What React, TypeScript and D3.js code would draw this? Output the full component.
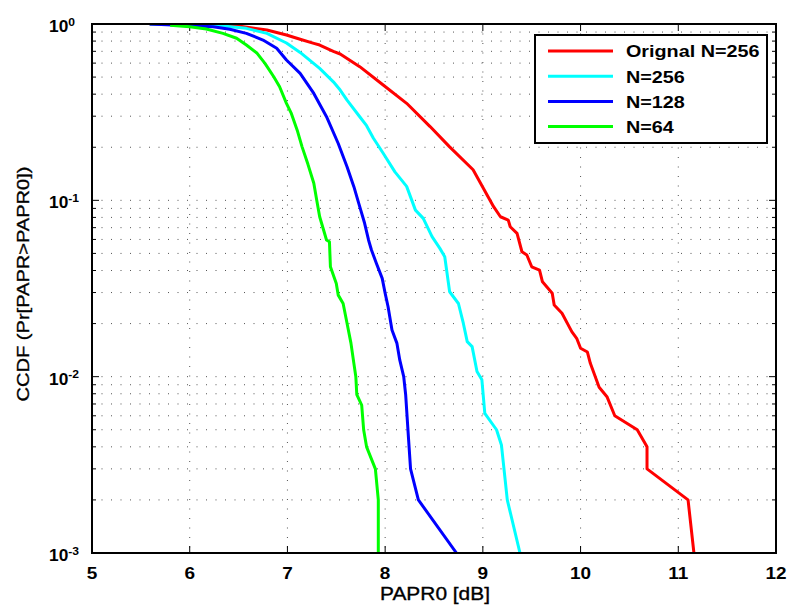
import React from "react";
import * as d3 from "d3";

const seriesNames = ["Orignal N=256", "N=256", "N=128", "N=64"];
const seriesColors = ["#ff0000", "#00ffff", "#0000ff", "#00ff00"];

const origX = [5.59, 6.0, 6.48, 6.79, 6.99, 7.13, 7.27, 7.33, 7.47, 7.54, 7.74, 7.98, 8.22, 8.46, 8.66, 8.9, 9.11, 9.18, 9.26, 9.28, 9.35, 9.4, 9.45, 9.5, 9.58, 9.61, 9.71, 9.73, 9.81, 9.91, 9.96, 10.0, 10.07, 10.1, 10.19, 10.27, 10.35, 10.58, 10.68, 10.68, 11.1, 11.16];
const origY = [1.0, 0.995, 0.978, 0.925, 0.866, 0.819, 0.777, 0.76, 0.7, 0.676, 0.573, 0.451, 0.355, 0.262, 0.201, 0.149, 0.092, 0.0807, 0.0773, 0.0708, 0.065, 0.0511, 0.049, 0.042, 0.0402, 0.0345, 0.0297, 0.0255, 0.0229, 0.018, 0.0165, 0.0145, 0.0138, 0.0119, 0.0087, 0.0077, 0.006, 0.005, 0.004, 0.003, 0.002, 0.001];

const n256X = [5.59, 6.0, 6.31, 6.58, 6.79, 6.99, 7.13, 7.33, 7.47, 7.54, 7.61, 7.74, 7.81, 7.88, 7.98, 8.1, 8.22, 8.31, 8.39, 8.48, 8.56, 8.61, 8.66, 8.75, 8.8, 8.84, 8.89, 8.94, 8.99, 9.02, 9.14, 9.19, 9.25, 9.38];
const n256Y = [1.0, 0.995, 0.978, 0.945, 0.885, 0.78, 0.69, 0.56, 0.47, 0.422, 0.37, 0.298, 0.265, 0.225, 0.185, 0.145, 0.12, 0.088, 0.079, 0.0622, 0.0534, 0.0479, 0.0303, 0.026, 0.0201, 0.0158, 0.0148, 0.0107, 0.0096, 0.0062, 0.005, 0.0041, 0.002, 0.001];

const n128X = [5.59, 6.0, 6.24, 6.41, 6.58, 6.75, 6.89, 6.99, 7.13, 7.27, 7.4, 7.52, 7.61, 7.68, 7.73, 7.79, 7.83, 7.86, 7.91, 7.97, 8.0, 8.03, 8.07, 8.12, 8.15, 8.19, 8.21, 8.24, 8.26, 8.34, 8.73];
const n128Y = [1.0, 0.978, 0.965, 0.933, 0.885, 0.811, 0.728, 0.625, 0.525, 0.404, 0.298, 0.21, 0.155, 0.1195, 0.0962, 0.0741, 0.0596, 0.0523, 0.044, 0.0361, 0.0297, 0.0249, 0.0184, 0.0155, 0.0124, 0.01, 0.0079, 0.0044, 0.003, 0.002, 0.001];

const n64X = [5.8, 6.0, 6.17, 6.34, 6.48, 6.58, 6.69, 6.77, 6.86, 6.92, 6.99, 7.04, 7.1, 7.15, 7.21, 7.27, 7.3, 7.33, 7.37, 7.4, 7.43, 7.44, 7.5, 7.52, 7.57, 7.61, 7.65, 7.68, 7.7, 7.71, 7.76, 7.78, 7.81, 7.9, 7.93, 7.93];
const n64Y = [0.985, 0.965, 0.937, 0.885, 0.83, 0.76, 0.682, 0.598, 0.502, 0.441, 0.355, 0.311, 0.25, 0.201, 0.16, 0.125, 0.1, 0.0807, 0.0679, 0.0596, 0.0582, 0.042, 0.0338, 0.029, 0.026, 0.0201, 0.0155, 0.0119, 0.01, 0.0079, 0.0069, 0.005, 0.004, 0.003, 0.002, 0.001];

const xTicks = [5, 6, 7, 8, 9, 10, 11, 12];
const yDecades = [0, -1, -2, -3];

const W = 790, H = 608;
const L = 92, R = 776, T = 24, B = 553;
const FONT = "'Liberation Sans', Arial, Helvetica, sans-serif";

export default function App() {
  const x = d3.scaleLinear().domain([5, 12]).range([L, R]);
  const y = d3.scaleLog().domain([1e-3, 1]).range([B, T]);
  const line = d3.line<[number, number]>().x(d => x(d[0])).y(d => y(d[1]));
  const series = [
    d3.zip(origX, origY) as [number, number][],
    d3.zip(n256X, n256Y) as [number, number][],
    d3.zip(n128X, n128Y) as [number, number][],
    d3.zip(n64X, n64Y) as [number, number][],
  ];
  const minor: number[] = [];
  for (let e = -3; e < 0; e++) for (let m = 2; m <= 9; m++) minor.push(m * Math.pow(10, e));
  const major = yDecades.map(e => Math.pow(10, e));
  const dash = "1,8.5";
  const gridColor = "#555";

  return (
    <svg width={W} height={H} style={{ position: "absolute", left: 0, top: 0, background: "#fff" }} fontFamily={FONT}>
      <defs>
        <clipPath id="plot"><rect x={L} y={T} width={R - L} height={B - T} /></clipPath>
      </defs>
      <rect x={0} y={0} width={W} height={H} fill="#fff" />
      {/* grid */}
      {xTicks.slice(1, -1).map(t => (
        <line key={"gx" + t} x1={x(t)} x2={x(t)} y1={T} y2={B} stroke={gridColor} strokeWidth={1} strokeDasharray={dash} />
      ))}
      {[...minor, ...major.slice(1, -1)].map(v => (
        <line key={"gy" + v} x1={L} x2={R} y1={y(v)} y2={y(v)} stroke={gridColor} strokeWidth={1} strokeDasharray={dash} />
      ))}
      {/* ticks */}
      {xTicks.map(t => (
        <g key={"tx" + t}>
          <line x1={x(t)} x2={x(t)} y1={B} y2={B - 7} stroke="#000" strokeWidth={1} />
          <line x1={x(t)} x2={x(t)} y1={T} y2={T + 7} stroke="#000" strokeWidth={1} />
        </g>
      ))}
      {major.map(v => (
        <g key={"tyM" + v}>
          <line x1={L} x2={L + 7} y1={y(v)} y2={y(v)} stroke="#000" strokeWidth={1} />
          <line x1={R} x2={R - 7} y1={y(v)} y2={y(v)} stroke="#000" strokeWidth={1} />
        </g>
      ))}
      {minor.map(v => (
        <g key={"tym" + v}>
          <line x1={L} x2={L + 4} y1={y(v)} y2={y(v)} stroke="#000" strokeWidth={1} />
          <line x1={R} x2={R - 4} y1={y(v)} y2={y(v)} stroke="#000" strokeWidth={1} />
        </g>
      ))}
      {/* curves */}
      <g clipPath="url(#plot)">
        {series.map((s, i) => (
          <path key={"s" + i} d={line(s) || ""} fill="none" stroke={seriesColors[i]} strokeWidth={3} strokeLinejoin="round" />
        ))}
      </g>
      {/* axes box */}
      <rect x={L} y={T} width={R - L} height={B - T} fill="none" stroke="#000" strokeWidth={2} />
      {/* x tick labels */}
      {xTicks.map(t => (
        <text key={"lx" + t} transform={`translate(${x(t)},578.5) scale(1.15,1)`} textAnchor="middle" fontSize={16.5} fontWeight="bold" fill="#000">{t}</text>
      ))}
      {/* y tick labels */}
      {yDecades.map(e => (
        <text key={"ly" + e} transform={`translate(49,${y(Math.pow(10, e)) + 8}) scale(1.05,1)`} fontSize={16.5} fontWeight="bold" fill="#000">
          10<tspan dy={-6.5} fontSize={11.5}>{e}</tspan>
        </text>
      ))}
      {/* axis labels */}
      <text transform={`translate(${(L + R) / 2 + 1},600) scale(1.13,1)`} textAnchor="middle" fontSize={18.5} fill="#000" stroke="#000" strokeWidth={0.35}>PAPR0 [dB]</text>
      <text transform={`translate(28.5,284) rotate(-90) scale(1.18,1)`} textAnchor="middle" fontSize={17} fill="#000" stroke="#000" strokeWidth={0.35}>CCDF (Pr[PAPR&gt;PAPR0])</text>
      {/* legend */}
      <rect x={535} y={35} width={232} height={108} fill="#fff" stroke="#000" strokeWidth={2} />
      {seriesNames.map((n, i) => (
        <g key={"lg" + i}>
          <line x1={548} x2={613} y1={51 + i * 25.2} y2={51 + i * 25.2} stroke={seriesColors[i]} strokeWidth={3} />
          <text transform={`translate(626,${51 + i * 25.2 + 6.3}) scale(1.15,1)`} fontSize={17.2} fontWeight="bold" fill="#000">{n}</text>
        </g>
      ))}
    </svg>
  );
}
